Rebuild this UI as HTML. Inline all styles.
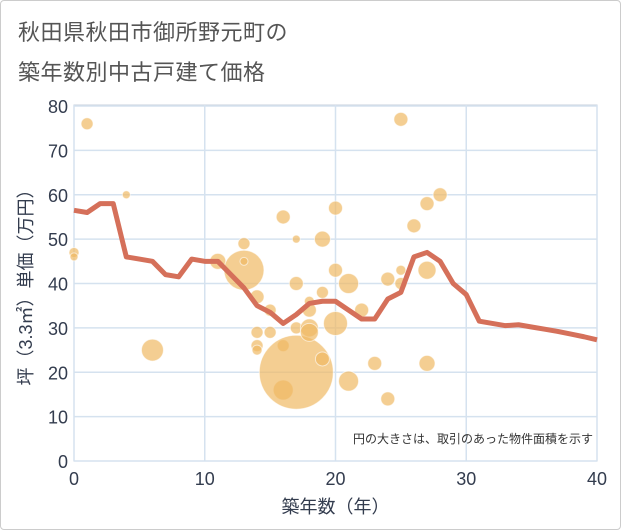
<!DOCTYPE html>
<html><head><meta charset="utf-8"><style>
html,body{margin:0;padding:0;background:#fff}
#wrap{position:relative;width:619px;height:528px;border:1px solid #ccc;border-radius:4px;overflow:hidden;font-family:"Liberation Sans","Noto Sans CJK JP",sans-serif}
.title{position:absolute;left:17px;font-size:22px;color:#555;letter-spacing:0.5px}
</style></head><body>
<div id="wrap">
<div class="title" style="top:14px">秋田県秋田市御所野元町の</div>
<div class="title" style="top:54px">築年数別中古戸建て価格</div>
<svg id="chart" width="621" height="530" style="position:absolute;left:-1px;top:-1px"></svg>
</div>
<script>
const xTicks=[0,10,20,30,40];
const yTicks=[0,10,20,30,40,50,60,70,80];
const lineX=[0,1,2,3,4,5,6,7,8,9,10,11,12,13,14,15,16,17,18,19,20,21,22,23,24,25,26,27,28,29,30,31,32,33,34,35,36,37,38,39,40];
const lineY=[56.5,56,58,58,46,45.5,45,42,41.5,45.5,45,45,42,39,35,33.5,31,33,35.5,36,36,34,32,32,36.5,38,46,47,45,40,37.5,31.5,31,30.5,30.7,30.2,29.7,29.2,28.6,28,27.3];
const bubX=[0,0,1,4,6,11,13,13,13,14,14,14,14,15,15,16,16,16,17,17,17,17,18,18,18,18,19,19,19,20,20,20,21,21,22,23,24,24,25,25,25,26,27,27,27,28];
const bubY=[47,46,76,60,25,45,43,49,45,37,29,26,25,29,34,55,26,16,50,40,20,30,36,34,30,29,50,38,23,57,43,31,40,18,34,22,41,14,77,43,40,53,58,43,22,60];
const bubR=[5,4,6,4,11,8,20,6,4,7,6,6,5,6,6,7,6,10,4,7,37,6,5,7,9,9,8,6,7,7,7,12,10,10,7,7,7,7,7,5,6,7,7,9,8,7];
const NS="http://www.w3.org/2000/svg";
const svg=document.getElementById('chart');
const X0=74,X1=597,Y0=461,Y1=105;
const sx=v=>X0+(v-0)/(40-0)*(X1-X0);
const sy=v=>Y0-(v-0)/(80-0)*(Y0-Y1-1);
function mk(t,a){const e=document.createElementNS(NS,t);for(const k in a)e.setAttribute(k,a[k]);svg.appendChild(e);return e;}
const bg=mk('rect',{x:X0,y:Y1,width:X1-X0,height:Y0-Y1,fill:'#fff',stroke:'#c8d0dc'});


yTicks.forEach(v=>{
 const l=mk('line',{x1:X0,x2:X1,y1:sy(v),y2:sy(v),stroke:'#d5e2ef','stroke-width':1.5});
 
 
 const t=mk('text',{x:X0-6,y:sy(v)+7,'text-anchor':'end','font-size':18,fill:'#333c4e'});
 t.textContent=v;
 
 
});
xTicks.forEach(v=>{
 const l=mk('line',{x1:sx(v),x2:sx(v),y1:Y1,y2:Y0,stroke:'#d5e2ef','stroke-width':1.5});
 
 
 const t=mk('text',{x:sx(v),y:Y0+24,'text-anchor':'middle','font-size':18,fill:'#333c4e'});
 t.textContent=v;
 
 
});
bubX.forEach((x,i)=>{
 const c=mk('circle',{cx:sx(x),cy:sy(bubY[i]),r:bubR[i],fill:'rgba(240,185,100,0.7)',stroke:'rgba(255,255,255,0.6)','stroke-width':1});
 
 
});
const p=mk('polyline',{points:lineX.map((x,i)=>sx(x)+','+sy(lineY[i])).join(' '),fill:'none',stroke:'#d5705a','stroke-width':5,'stroke-linejoin':'round'});


const note=mk('text',{x:593,y:443,'text-anchor':'end','font-size':12,fill:'#333'});
note.textContent='円の大きさは、取引のあった物件面積を示す';


const xt=mk('text',{x:sx(20),y:513,'text-anchor':'middle','font-size':18,fill:'#333c4e'});
xt.textContent='築年数（年）';


const yt=mk('text',{x:0,y:0,'text-anchor':'middle','font-size':18,fill:'#333c4e',transform:'translate(32,'+((Y0+Y1)/2)+') rotate(-90)'});
yt.textContent='坪（3.3㎡）単価（万円）';


</script>
</body></html>
